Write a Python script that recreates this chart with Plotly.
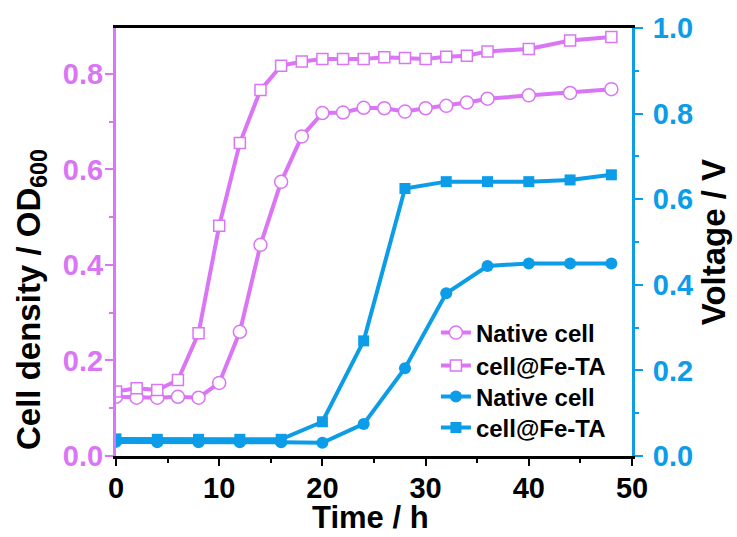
import plotly.graph_objects as go

# Data
time_od = [0, 2, 4, 6, 8, 10, 12, 14, 16, 18, 20, 22, 24, 26, 28, 30, 32, 34, 36, 40, 44, 48]
od_native = [0.124, 0.122, 0.122, 0.124, 0.122, 0.153, 0.260, 0.442, 0.574, 0.669, 0.718, 0.719,
             0.729, 0.728, 0.721, 0.728, 0.733, 0.740, 0.748, 0.755, 0.760, 0.768]
od_fe_ta = [0.135, 0.142, 0.138, 0.159, 0.257, 0.482, 0.655, 0.766, 0.817, 0.826, 0.831, 0.831,
            0.831, 0.835, 0.833, 0.831, 0.836, 0.838, 0.847, 0.852, 0.870, 0.877]

time_v = [0, 4, 8, 12, 16, 20, 24, 28, 32, 36, 40, 44, 48]
v_native = [0.033, 0.032, 0.032, 0.032, 0.032, 0.031, 0.075, 0.205, 0.380, 0.444, 0.450, 0.450, 0.450]
v_fe_ta = [0.040, 0.039, 0.039, 0.039, 0.039, 0.080, 0.269, 0.625, 0.641, 0.641, 0.641, 0.645, 0.657]

names = ["Native cell", "cell@Fe-TA", "Native cell", "cell@Fe-TA"]
x_title = "Time / h"
y_title = "Cell density / OD<sub>600</sub>"
y2_title = "Voltage / V"

VIOLET = "#DA75F5"
BLUE = "#0C9CE8"
FONT = "Arial, Liberation Sans, sans-serif"

# plot-area geometry in pixels (for placing titles/legend rows)
L, R, T, B = 116, 632, 28, 456
W, H = R - L, B - T

fig = go.Figure()
fig.add_trace(go.Scatter(x=time_od, y=od_native, name=names[0], mode="lines+markers", legend="legend",
                         line=dict(color=VIOLET, width=4),
                         marker=dict(symbol="circle", size=13, color="white",
                                     line=dict(color=VIOLET, width=1.5))))
fig.add_trace(go.Scatter(x=time_od, y=od_fe_ta, name=names[1], mode="lines+markers", legend="legend2",
                         line=dict(color=VIOLET, width=4),
                         marker=dict(symbol="square", size=11, color="white",
                                     line=dict(color=VIOLET, width=1.5))))
fig.add_trace(go.Scatter(x=time_v, y=v_native, name=names[2], mode="lines+markers", yaxis="y2",
                         legend="legend3",
                         line=dict(color=BLUE, width=4),
                         marker=dict(symbol="circle", size=12, color=BLUE)))
fig.add_trace(go.Scatter(x=time_v, y=v_fe_ta, name=names[3], mode="lines+markers", yaxis="y2",
                         legend="legend4",
                         line=dict(color=BLUE, width=4),
                         marker=dict(symbol="square", size=11, color=BLUE)))

legend_font = dict(size=24, family=FONT, color="black", weight="bold")
row_y = [333, 366, 397, 428]


def leg(ypx):
    return dict(x=0.62, y=(B - ypx) / H, xanchor="left", yanchor="middle",
                bgcolor="rgba(0,0,0,0)", font=legend_font, itemwidth=30)


fig.update_layout(
    width=737, height=537,
    margin=dict(l=L, r=737 - R, t=T, b=537 - B, autoexpand=False),
    paper_bgcolor="white", plot_bgcolor="white",
    font=dict(family=FONT, color="black", weight="bold"),
    showlegend=True,
    legend=leg(row_y[0]), legend2=leg(row_y[1]), legend3=leg(row_y[2]), legend4=leg(row_y[3]),
    xaxis=dict(range=[0, 50], dtick=10, tick0=0, showgrid=False, zeroline=False, automargin=False,
               showline=True, linecolor="black", linewidth=3, mirror=True,
               ticks="outside", ticklen=7, tickwidth=2, tickcolor="black",
               minor=dict(dtick=5, ticks="outside", ticklen=4, tickwidth=2, tickcolor="black", showgrid=False),
               tickfont=dict(size=29, family=FONT, color="black", weight="bold"),
               ticklabelstandoff=-3),
    yaxis=dict(range=[0, 0.896], dtick=0.2, tick0=0, tickformat=".1f", showgrid=False, zeroline=False,
               automargin=False,
               showline=True, linecolor=VIOLET, linewidth=3,
               ticks="outside", ticklen=8, tickwidth=2, tickcolor=VIOLET,
               minor=dict(dtick=0.1, ticks="outside", ticklen=4, tickwidth=2, tickcolor=VIOLET, showgrid=False),
               tickfont=dict(size=29, family=FONT, color=VIOLET, weight="bold"),
               ticklabelstandoff=-4),
    yaxis2=dict(range=[0, 1.0], dtick=0.2, tick0=0, tickformat=".1f", overlaying="y", side="right",
                showgrid=False, zeroline=False, automargin=False,
                showline=True, linecolor=BLUE, linewidth=3,
                ticks="outside", ticklen=8, tickwidth=2, tickcolor=BLUE,
                minor=dict(dtick=0.1, ticks="outside", ticklen=4, tickwidth=2, tickcolor=BLUE, showgrid=False),
                tickfont=dict(size=29, family=FONT, color=BLUE, weight="bold"),
                ticklabelstandoff=4,
                title=dict(text=y2_title, font=dict(size=33, family=FONT, color="black", weight="bold"),
                           standoff=10)),
)

fig.add_annotation(text=y_title, xref="paper", yref="paper",
                   x=(31 - L) / W, y=(B - 300) / H, xanchor="center", yanchor="middle",
                   textangle=-90, showarrow=False,
                   font=dict(size=33, family=FONT, color="black", weight="bold"))
fig.add_annotation(text=x_title, xref="paper", yref="paper",
                   x=(370 - L) / W, y=(B - 517) / H, xanchor="center", yanchor="middle",
                   showarrow=False, borderpad=0,
                   font=dict(size=31, family=FONT, color="black", weight="bold"))

fig.write_html("out.html")
